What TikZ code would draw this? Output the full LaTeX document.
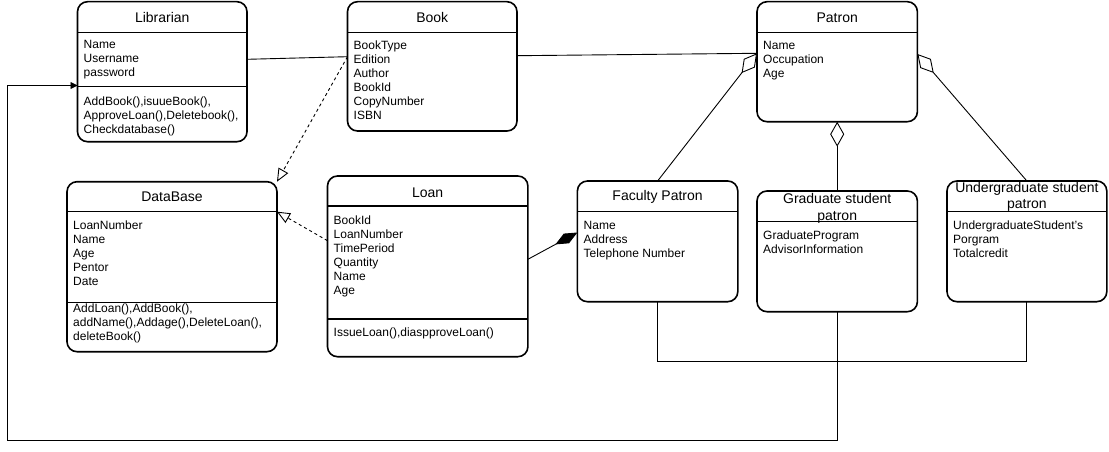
\documentclass[tikz,border=0pt]{standalone}
\usepackage{fontspec}
\setmainfont{Liberation Sans}
\usetikzlibrary{arrows.meta,calc}
\begin{document}
\begin{tikzpicture}[x=1pt,y=-1pt,
  classbox/.style={draw, line width=1.6pt, rounded corners=10pt, anchor=north west, inner sep=0pt, outer sep=0pt, fill=white},
  sepline/.style={line width=1.4pt},
  ttl/.style={font=\fontsize{14}{16.7}\selectfont, inner sep=0pt, align=center},
  attr/.style={font=\fontsize{12}{14}\selectfont, inner sep=0pt, anchor=north west, align=left},
  conn/.style={line width=0.9pt},
  dashconn/.style={line width=0.9pt, dash pattern=on 3pt off 3pt},
  opentri/.style={-{Triangle[open, length=13pt, width=11pt, fill=white]}},
  odiam/.style={-{Diamond[open, length=25pt, width=14pt, fill=white]}},
  fdiam/.style={-{Diamond[length=25pt, width=11pt]}}
]
\useasboundingbox (0,0) rectangle (1109,452);

% ---- boxes ----
\node[classbox, minimum width=169.5pt, minimum height=140pt] (lib) at (77.5,1.7) {};
\node[classbox, minimum width=169.5pt, minimum height=129.3pt] (book) at (347.5,1.7) {};
\node[classbox, minimum width=160.4pt, minimum height=120pt] (patron) at (757,1.7) {};
\node[classbox, minimum width=210pt, minimum height=170pt] (db) at (67,181.7) {};
\node[classbox, minimum width=200.4pt, minimum height=180.7pt] (loan) at (327.5,176) {};
\node[classbox, minimum width=160.4pt, minimum height=120.7pt] (fac) at (577.4,181) {};
\node[classbox, minimum width=160.4pt, minimum height=120.7pt] (grad) at (757,191) {};
\node[classbox, minimum width=159.8pt, minimum height=120.7pt] (ug) at (947,181) {};

% ---- separators ----
\draw[sepline] ($(lib.north west)+(0,30.6)$) -- ($(lib.north east)+(0,30.6)$);
\draw[sepline] ($(lib.north west)+(0,85)$) -- ($(lib.north east)+(0,85)$);
\draw[sepline] ($(book.north west)+(0,30.6)$) -- ($(book.north east)+(0,30.6)$);
\draw[sepline] ($(patron.north west)+(0,30.6)$) -- ($(patron.north east)+(0,30.6)$);
\draw[sepline] ($(db.north west)+(0,30)$) -- ($(db.north east)+(0,30)$);
\draw[sepline] ($(db.north west)+(0,120.6)$) -- ($(db.north east)+(0,120.6)$);
\draw[sepline] ($(loan.north west)+(0,30)$) -- ($(loan.north east)+(0,30)$);
\draw[sepline] ($(loan.north west)+(0,143)$) -- ($(loan.north east)+(0,143)$);
\draw[sepline] ($(fac.north west)+(0,30.7)$) -- ($(fac.north east)+(0,30.7)$);
\draw[sepline] ($(grad.north west)+(0,30.7)$) -- ($(grad.north east)+(0,30.7)$);
\draw[sepline] ($(ug.north west)+(0,30.7)$) -- ($(ug.north east)+(0,30.7)$);

% ---- titles ----
\node[ttl] (libT) at ($(lib.north)+(0,15.6)$) {Librarian};
\node[ttl] (bookT) at ($(book.north)+(0,15.6)$) {Book};
\node[ttl] (patronT) at ($(patron.north)+(0,15.6)$) {Patron};
\node[ttl] (dbT) at ($(db.north)+(0,15)$) {DataBase};
\node[ttl] (loanT) at ($(loan.north)+(0,16.3)$) {Loan};
\node[ttl] (facT) at ($(fac.north)+(0,16.3)$) {Faculty Patron};
\node[ttl] (gradT) at ($(grad.north)+(0,17.2)$) {Graduate student\\patron};
\node[ttl] (ugT) at ($(ug.north)+(0,16)$) {Undergraduate student\\patron};

% ---- attributes / methods ----
\node[attr] (libA) at (83.5,40) {Name\\Username\\password};
\node[attr] (libM) at (83.5,96.4) {AddBook(),isuueBook(),\\ApproveLoan(),Deletebook(),\\Checkdatabase()};
\node[attr] (bookA) at (353.5,40.8) {BookType\\Edition\\Author\\BookId\\CopyNumber\\ISBN};
\node[attr] (patronA) at (763,40.8) {Name\\Occupation\\Age};
\node[attr] (dbA) at (73,220.8) {LoanNumber\\Name\\Age\\Pentor\\Date};
\node[attr] (dbM) at (73,304) {AddLoan(),AddBook(),\\addName(),Addage(),DeleteLoan(),\\deleteBook()};
\node[attr] (loanA) at (333.5,215.8) {BookId\\LoanNumber\\TimePeriod\\Quantity\\Name\\Age};
\node[attr] (loanM) at (333.5,328) {IssueLoan(),diaspproveLoan()};
\node[attr] (facA) at (583.5,220.8) {Name\\Address\\Telephone Number};
\node[attr] (gradA) at (763,230.8) {GraduateProgram\\AdvisorInformation};
\node[attr] (ugA) at (953,220.8) {UndergraduateStudent's\\Porgram\\Totalcredit};

% ---- connectors ----
\draw[conn] ($(lib.north east)+(0,57.6)$) -- ($(book.north west)+(0,55)$);
\draw[conn] ($(book.north east)+(0,54)$) -- ($(patron.north west)+(0,51.6)$);
\draw[dashconn, opentri] ($(book.north west)+(0,55)$) -- (db.north east);
\draw[dashconn, opentri] ($(loan.north west)+(0,64.7)$) -- ($(db.north east)+(0,30)$);
\draw[conn, fdiam] ($(loan.north east)+(0,83.3)$) -- ($(fac.north west)+(0,51.5)$);
\draw[conn, odiam] (fac.north) -- ($(patron.north west)+(0,51.6)$);
\draw[conn, odiam] (grad.north) -- (patron.south);
\draw[conn, odiam] (ug.north) -- ($(patron.north east)+(0,52.3)$);
\draw[conn] (fac.south) -- ++(0,59.3) -| (ug.south);
\coordinate (c1) at (7.3,440.7);
\coordinate (c2) at (7.3,85.5);
\draw[conn, -{Triangle[length=7pt, width=7pt]}] (grad.south) |- (c1) -- (c2) -- (lib.west |- c2);
\end{tikzpicture}
\end{document}
